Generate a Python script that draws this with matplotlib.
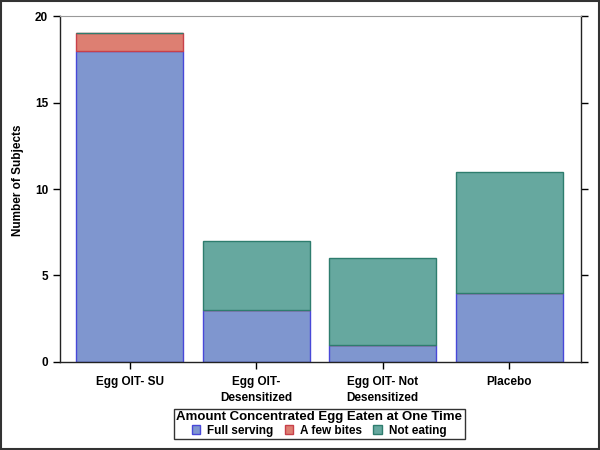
import matplotlib

matplotlib.use("Agg")
import matplotlib.pyplot as plt
from matplotlib.patches import Rectangle, Patch

plt.rcParams["font.family"] = ["Liberation Sans", "DejaVu Sans"]
plt.rcParams["font.weight"] = "bold"

groups = ["Egg OIT- SU", "Egg OIT-\nDesensitized", "Egg OIT- Not\nDesensitized", "Placebo"]
full_serving = [18, 3, 1, 4]
few_bites = [1, 0, 0, 0]
not_eating = [0, 4, 5, 7]

series = [
    ("Full serving", full_serving, "#7f96cf", "#4848d8"),
    ("A few bites", few_bites, "#dd7f72", "#c8404a"),
    ("Not eating", not_eating, "#66a89f", "#2e7d6e"),
]

fig = plt.figure(figsize=(6, 4.5), dpi=100)
ax = fig.add_axes([0.1, 0.1956, 0.868, 0.7688])

x = list(range(len(groups)))
bottom = [0] * len(groups)
for label, values, face, edge in series:
    ax.bar(x, values, width=0.845, bottom=bottom, color=face, edgecolor=edge, linewidth=1.0)
    bottom = [b + v for b, v in zip(bottom, values)]

ax.set_xlim(-0.553, 3.567)
ax.set_ylim(0, 20)
ax.set_yticks([0, 5, 10, 15, 20])
ax.set_xticks(x)
ax.set_xticklabels(groups, fontsize=8.5, fontweight="bold", linespacing=1.45)
ax.tick_params(axis="y", labelsize=8.5, right=True, direction="out", length=5, width=1)
ax.tick_params(axis="x", length=5, width=1, pad=5)
ax.set_ylabel("Number of Subjects", fontsize=8.5, fontweight="bold")
ax.yaxis.set_label_coords(-0.069, 0.526)
for side in ["left", "bottom", "right"]:
    ax.spines[side].set_linewidth(1.0)
    ax.spines[side].set_color("#222222")
ax.spines["top"].set_color("#999999")
ax.spines["top"].set_linewidth(0.8)

handles = [Patch(facecolor=f, edgecolor=e, label=l) for l, _, f, e in series]
leg = fig.legend(handles=handles, loc="center", bbox_to_anchor=(0.532, 0.0578), ncol=3,
                 title="Amount Concentrated Egg Eaten at One Time", fontsize=8.5,
                 title_fontproperties={"weight": "bold", "size": 9.5},
                 frameon=True, fancybox=False, edgecolor="black", handlelength=0.7,
                 handleheight=0.7, handletextpad=0.6, columnspacing=0.95,
                 borderpad=0.2, labelspacing=0.1)
leg.get_frame().set_linewidth(1.0)
leg._legend_box.sep = 1

fig.patches.append(Rectangle((0.002, 0.002), 0.996, 0.996, transform=fig.transFigure,
                             fill=False, edgecolor="#333333", linewidth=1.5))

fig.savefig("out.png", dpi=100)
plt.close(fig)
